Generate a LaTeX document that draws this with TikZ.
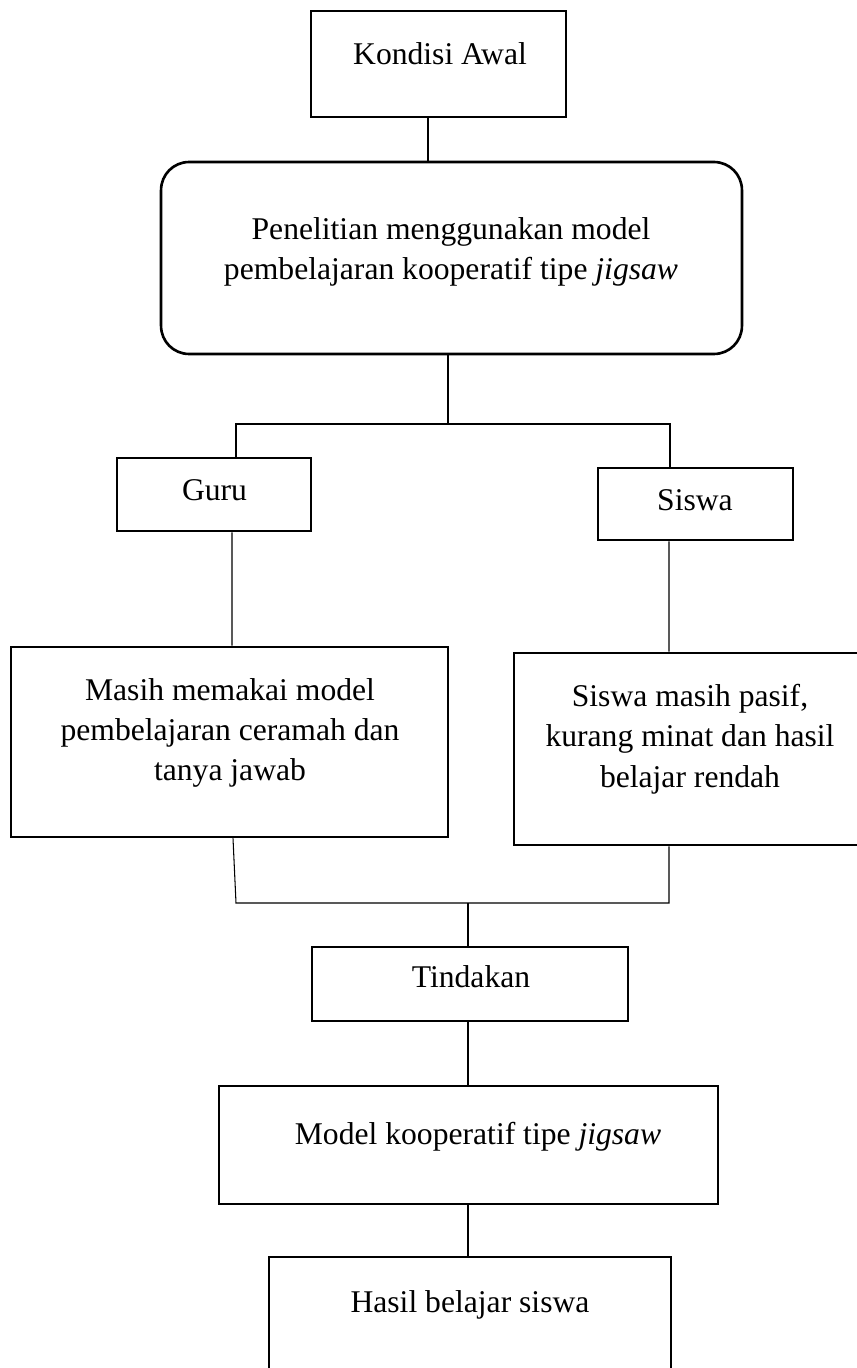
\documentclass[tikz,border=0pt]{standalone}
\usepackage{fontspec}
\setmainfont{Liberation Serif}
\begin{document}
\begin{tikzpicture}[x=0.02cm,y=-0.02cm,
	kotak/.style={draw,line width=1.5pt,inner sep=0pt},
	tulisan/.style={align=center,inner sep=0pt,font=\fontsize{18}{23}\selectfont},
	garis/.style={line width=0.6pt}]
\useasboundingbox (0,0) rectangle (857,1368);
\node[kotak,minimum width=5.10cm,minimum height=2.12cm] (kondisi) at (438.5,64) {};
\node[tulisan] (kondisi-t) at (440,54) {Kondisi Awal};
\node[kotak,rounded corners=0.56cm,minimum width=11.62cm,minimum height=3.84cm] (riset) at (451.5,258) {};
\node[tulisan] (riset-t) at (451,252) {Penelitian menggunakan model\\pembelajaran kooperatif tipe \textit{jigsaw}};
\node[kotak,minimum width=3.88cm,minimum height=1.46cm] (guru) at (214,494.5) {};
\node[tulisan] (guru-t) at (214.5,490) {Guru};
\node[kotak,minimum width=3.90cm,minimum height=1.44cm] (siswa) at (695.5,504) {};
\node[tulisan] (siswa-t) at (695,500) {Siswa};
\node[kotak,minimum width=8.74cm,minimum height=3.80cm] (masih) at (229.5,742) {};
\node[tulisan] (masih-t) at (230,733) {Masih memakai model\\pembelajaran ceramah dan\\tanya jawab};
\node[kotak,minimum width=7.04cm,minimum height=3.84cm] (pasif) at (690,749) {};
\node[tulisan] (pasif-t) at (690,739) {Siswa masih pasif,\\kurang minat dan hasil\\belajar rendah};
\node[kotak,minimum width=6.32cm,minimum height=1.48cm] (tindakan) at (470,984) {};
\node[tulisan] (tindakan-t) at (471,977) {Tindakan};
\node[kotak,minimum width=9.98cm,minimum height=2.36cm] (model) at (468.5,1145) {};
\node[tulisan] (model-t) at (478,1137) {Model kooperatif tipe \textit{jigsaw}};
\node[kotak,minimum width=8.04cm,minimum height=3.66cm] (hasil) at (470,1348.5) {};
\node[tulisan] (hasil-t) at (470,1305) {Hasil belajar siswa};

\coordinate (bagi) at (448,424);
\coordinate (bagiL) at (236,424);
\coordinate (bagiR) at (670,424);
\coordinate (gabung) at (468,903);
\coordinate (gabungL) at (236,903);
\coordinate (gabungR) at (669,903);

\draw[garis] ([xshift=-0.21cm]kondisi.south) -- ([xshift=-0.21cm]kondisi.south |- riset.north);
\draw[garis] (riset.south -| bagi) -- (bagi);
\draw[garis] (guru.north -| bagiL) -- (bagiL) -- (bagiR) -- (siswa.north -| bagiR);
\draw[garis] ([xshift=0.36cm]guru.south) -- ([xshift=0.05cm]masih.north);
\draw[garis] ([xshift=-0.53cm]siswa.south) -- ([xshift=-0.42cm]pasif.north);
\draw[garis] ([xshift=0.07cm]masih.south) -- (gabungL) -- (gabungR) -- ([xshift=-0.42cm]pasif.south);
\draw[garis] (gabung) -- (tindakan.north -| gabung);
\draw[garis] (tindakan.south -| gabung) -- (model.north -| gabung);
\draw[garis] (model.south -| gabung) -- (hasil.north -| gabung);
\end{tikzpicture}
\end{document}
